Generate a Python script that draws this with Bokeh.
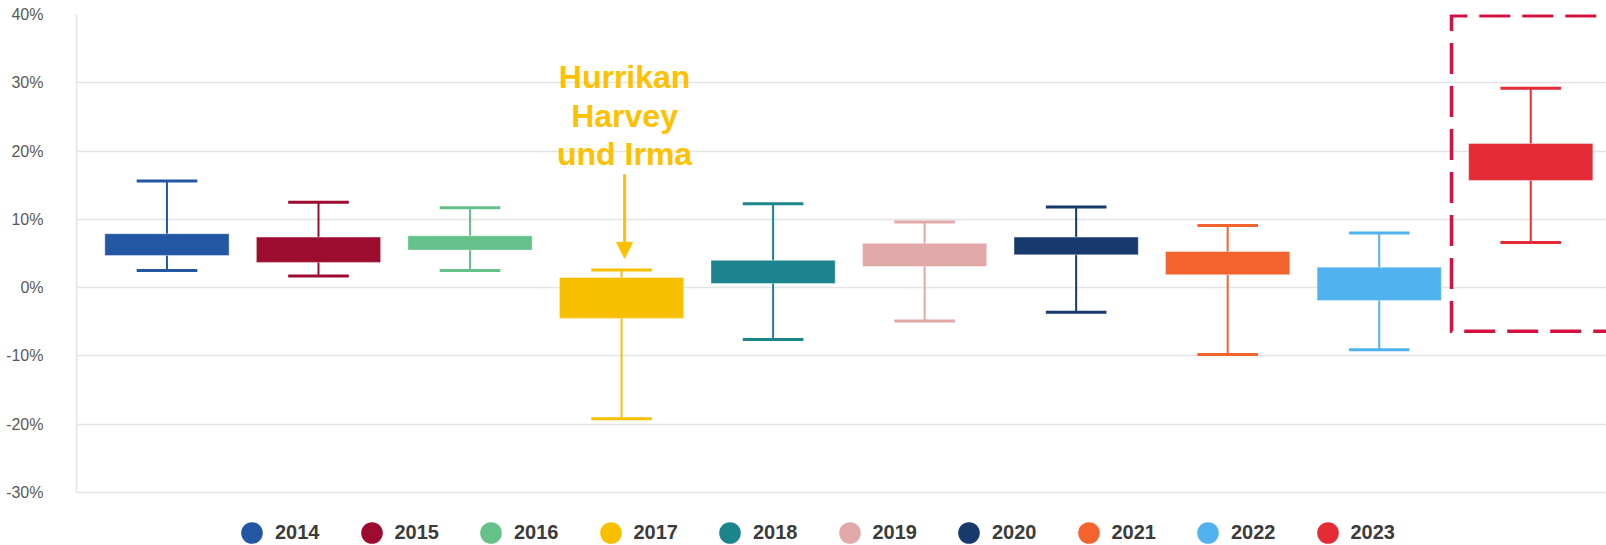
from bokeh.plotting import figure
from bokeh.models import (ColumnDataSource, Range1d, FixedTicker, PrintfTickFormatter,
                          Legend, LegendItem, Arrow, NormalHead)
from bokeh.core.properties import value
from bokeh.transform import dodge
from bokeh.embed import file_html
from bokeh.resources import INLINE

# ---- data (percent) ----
years = ["2014", "2015", "2016", "2017", "2018", "2019", "2020", "2021", "2022", "2023"]
whisker_low = [2.5, 1.7, 2.5, -19.2, -7.6, -4.9, -3.6, -9.8, -9.1, 6.6]
box_low = [4.7, 3.7, 5.5, -4.5, 0.6, 3.1, 4.8, 1.9, -1.9, 15.7]
box_high = [7.9, 7.4, 7.6, 1.5, 4.0, 6.5, 7.4, 5.3, 3.0, 21.1]
whisker_high = [15.6, 12.5, 11.7, 2.6, 12.3, 9.6, 11.8, 9.1, 8.0, 29.2]
colors = ["#2457A3", "#9D0B2F", "#64C18A", "#F7BF00", "#1C848C",
          "#E2A8A8", "#18396C", "#F2632D", "#50B2EE", "#E52B35"]
y_ticks = [-30, -20, -10, 0, 10, 20, 30, 40]
note_lines = ["Hurrikan", "Harvey", "und Irma"]
note_year = "2017"
highlight_year = "2023"
highlight_low = -6.4
highlight_high = 39.8

FONT = "Liberation Sans"
AMBER = "#FFC000"
LEGEND_ROOM = 7.76  # extra y-range below the lowest tick that holds the legend

xs = list(range(len(years)))
mid = [(a + b) / 2 for a, b in zip(box_low, box_high)]
src = ColumnDataSource(dict(x=xs, year=years, wl=whisker_low, bl=box_low,
                            bh=box_high, wh=whisker_high, mid=mid, color=colors))

p = figure(width=1606, height=545, output_backend="svg", toolbar_location=None,
           x_range=Range1d(-0.597, 9.5),
           y_range=Range1d(y_ticks[0] - LEGEND_ROOM, y_ticks[-1]),
           x_axis_location=None, min_border_left=76, min_border_right=0,
           min_border_top=14, min_border_bottom=0)
p.outline_line_color = None
p.background_fill_color = "white"
p.border_fill_color = "white"

p.xgrid.visible = False
p.ygrid.grid_line_color = "#E4E4E4"
p.ygrid.grid_line_width = 1.5
p.yaxis.ticker = FixedTicker(ticks=y_ticks)
p.yaxis.bounds = (y_ticks[0], y_ticks[-1])
p.yaxis.formatter = PrintfTickFormatter(format="%d%%")
p.yaxis.major_tick_line_color = None
p.yaxis.minor_tick_line_color = None
p.yaxis.axis_line_color = "#E4E4E4"
p.yaxis.axis_line_width = 1.5
p.yaxis.major_label_standoff = 27
p.yaxis.major_label_text_font = FONT
p.yaxis.major_label_text_font_size = "16px"
p.yaxis.major_label_text_color = "#595959"

# legend proxy: small round markers hidden behind the boxes
leg_r = p.ellipse(x="x", y="mid", width=8, height=8, width_units="screen",
                  height_units="screen", source=src, fill_color="color", line_color=None)

# whiskers
p.segment(x0="x", y0="wl", x1="x", y1="wh", source=src, line_color="color", line_width=2)
# boxes
p.vbar(x="x", width=0.82, bottom="bl", top="bh", source=src, fill_color="color",
       line_color="white", line_alpha=0.4, line_width=1)
# caps
cap = 0.20
p.segment(x0=dodge("x", -cap), y0="wh", x1=dodge("x", cap), y1="wh", source=src,
          line_color="color", line_width=3)
p.segment(x0=dodge("x", -cap), y0="wl", x1=dodge("x", cap), y1="wl", source=src,
          line_color="color", line_width=3)

items = [LegendItem(label=y, renderers=[leg_r], index=i) for i, y in enumerate(years)]
legend = Legend(items=items, orientation="horizontal", location=(162, -1),
                glyph_width=27, glyph_height=27, label_standoff=10, spacing=38,
                padding=0, margin=0, border_line_color=None, background_fill_alpha=0,
                label_text_font=FONT, label_text_font_style="bold",
                label_text_font_size="20px", label_text_color="#3B3B3B")
p.add_layout(legend, "center")

# annotation for 2017
ni = years.index(note_year)
tip = whisker_high[ni] + 1.7
tail = tip + 12.3
p.add_layout(Arrow(end=NormalHead(size=16, fill_color=AMBER, line_color=AMBER, line_width=1),
                   x_start=ni + 0.02, y_start=tail, x_end=ni + 0.02, y_end=tip,
                   line_color=AMBER, line_width=3))
p.text(x=[ni + 0.02], y=[tail + 8.55], text=["\n".join(note_lines)],
       text_font=value(FONT), text_font_style="bold", text_font_size="32px",
       text_color=AMBER, text_align="center", text_baseline="middle",
       text_line_height=1.07)

# dashed highlight box around 2023
hi = years.index(highlight_year)
left = hi - 0.523
p.line(x=[hi + 1.0, left, left, hi + 1.0],
       y=[highlight_high, highlight_high, highlight_low, highlight_low],
       line_color="#D4123F", line_width=3.5, line_dash="31 12", line_join="miter")

open("out.html", "w").write(file_html(p, INLINE))
